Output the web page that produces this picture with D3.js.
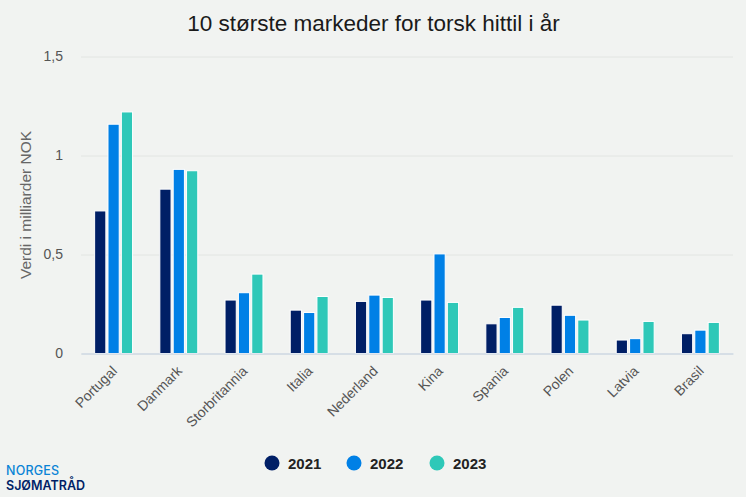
<!DOCTYPE html>
<html>
<head>
<meta charset="utf-8">
<script src="https://cdn.jsdelivr.net/npm/d3@7"></script>
<style>
  html, body { margin: 0; padding: 0; background: #f1f3f1; }
  svg { display: block; font-family: "Liberation Sans", Arial, sans-serif; }
</style>
</head>
<body>
<div id="chart"></div>
<script>
// chart data
const categories = ['Portugal', 'Danmark', 'Storbritannia', 'Italia', 'Nederland', 'Kina', 'Spania', 'Polen', 'Latvia', 'Brasil'];
const years = ['2021', '2022', '2023'];
const values2021 = [0.72, 0.83, 0.27, 0.219, 0.263, 0.27, 0.15, 0.244, 0.068, 0.1];
const values2022 = [1.158, 0.93, 0.307, 0.207, 0.295, 0.503, 0.182, 0.193, 0.075, 0.118];
const values2023 = [1.22, 0.923, 0.401, 0.288, 0.283, 0.258, 0.233, 0.169, 0.162, 0.157];
const yTicks = [0, 0.5, 1, 1.5];
const colors = ['#001f66', '#0080e6', '#2ec8b8'];

const series = [values2021, values2022, values2023];
const width = 746;
const height = 497;
const margin = { top: 56.5, right: 13, bottom: 143.5, left: 81 };

const svg = d3.select('#chart')
  .append('svg')
  .attr('width', width)
  .attr('height', height);

// scales
const x = d3.scaleBand()
  .domain(categories)
  .range([margin.left, width - margin.right]);

const xSub = d3.scaleBand()
  .domain(years)
  .range([0, x.bandwidth()])
  .paddingInner(0.16)
  .paddingOuter(1.02);

const y = d3.scaleLinear()
  .domain([0, 1.5])
  .range([height - margin.bottom, margin.top]);

const comma = d => String(d).replace('.', ',');

// title
svg.append('text')
  .attr('x', width / 2 + 0.5)
  .attr('y', 31)
  .attr('text-anchor', 'middle')
  .attr('fill', '#1a1a1a')
  .style('font-size', '22.5px')
  .text('10 største markeder for torsk hittil i år');

// y axis with grid lines
const yAxis = svg.append('g')
  .attr('transform', `translate(${margin.left},0)`)
  .call(d3.axisLeft(y)
    .tickValues(yTicks)
    .tickFormat(comma)
    .tickSize(-(width - margin.left - margin.right))
    .tickPadding(18));
yAxis.select('.domain').remove();
yAxis.selectAll('line').attr('stroke', '#e2e5e2');
yAxis.selectAll('text')
  .attr('fill', '#555')
  .style('font-size', '14px');

svg.append('text')
  .attr('transform', `translate(31,${(margin.top + height - margin.bottom) / 2}) rotate(-90)`)
  .attr('text-anchor', 'middle')
  .attr('fill', '#666')
  .style('font-size', '15.5px')
  .text('Verdi i milliarder NOK');

// bars
years.forEach((year, s) => {
  svg.append('g')
    .selectAll('rect')
    .data(series[s])
    .enter()
    .append('rect')
    .attr('x', (d, i) => x(categories[i]) + xSub(year))
    .attr('y', d => y(d))
    .attr('width', xSub.bandwidth())
    .attr('height', d => y(0) - y(d))
    .attr('fill', colors[s])
    .attr('stroke', '#fff')
    .attr('stroke-width', 1);
});

// x axis
const xAxis = svg.append('g')
  .attr('transform', `translate(0,${y(0)})`)
  .call(d3.axisBottom(x).tickSize(0).tickPadding(17));
xAxis.select('.domain').attr('stroke', '#c3d0e2');
xAxis.selectAll('text')
  .attr('fill', '#555')
  .attr('text-anchor', 'end')
  .attr('dx', '2')
  .attr('dy', '4')
  .attr('transform', function() {
    const t = d3.select(this);
    return `rotate(-45 ${t.attr('x') || 0} ${t.attr('y')})`;
  })
  .style('font-size', '14px');

// legend
const legendX = [272, 354, 437];
const legend = svg.append('g')
  .selectAll('g')
  .data(years)
  .enter()
  .append('g')
  .attr('transform', (d, i) => `translate(${legendX[i]},463)`);

legend.append('circle')
  .attr('r', 7.5)
  .attr('fill', (d, i) => colors[i]);

legend.append('text')
  .attr('x', 16)
  .attr('y', 5.5)
  .attr('fill', '#222')
  .style('font-size', '15px')
  .style('font-weight', 'bold')
  .text(d => d);

// logo
svg.append('text')
  .attr('x', 6)
  .attr('y', 475)
  .attr('fill', '#0a84d6')
  .style('font-family', 'Inter, sans-serif')
  .style('font-size', '12.5px')
  .style('font-weight', 500)
  .style('letter-spacing', '0.2px')
  .text('NORGES');

svg.append('text')
  .attr('x', 6)
  .attr('y', 490)
  .attr('fill', '#001f66')
  .style('font-family', 'Inter, sans-serif')
  .style('font-size', '12.5px')
  .style('font-weight', 600)
  .style('letter-spacing', '0px')
  .text('SJØMATRÅD');
</script>
</body>
</html>
